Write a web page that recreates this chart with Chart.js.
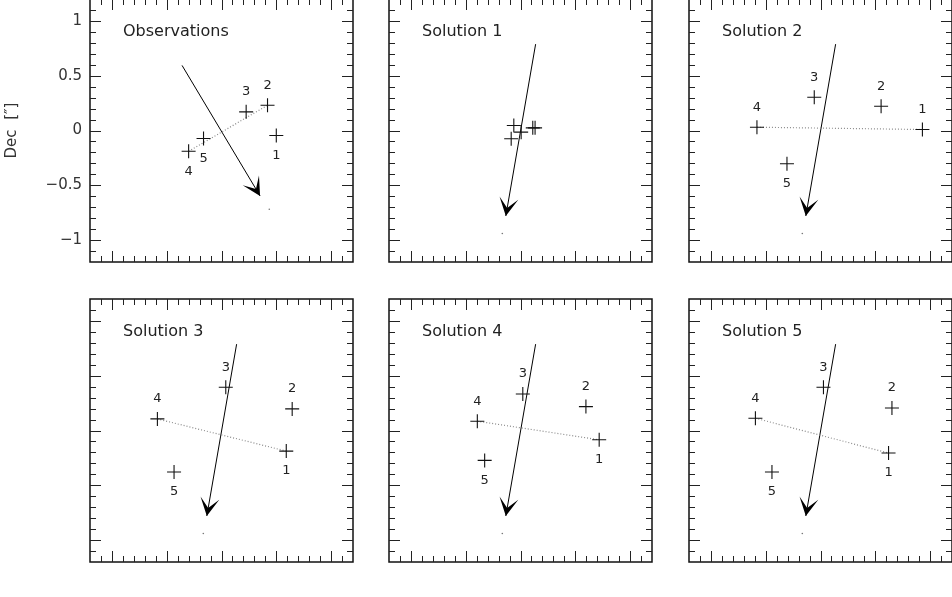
<!DOCTYPE html>
<html><head><meta charset="utf-8">
<script src="https://cdn.jsdelivr.net/npm/chart.js@4.4.1/dist/chart.umd.min.js"></script>
<style>
html,body{margin:0;padding:0;background:#fff;width:952px;height:597px;overflow:hidden;position:relative}
canvas{position:absolute}
</style></head><body>
<script>
// ---------------- DATA ----------------
const panelTitles = ['Observations', 'Solution 1', 'Solution 2', 'Solution 3', 'Solution 4', 'Solution 5'];
const sourceNames = ['1', '2', '3', '4', '5'];

// source positions (arcsec), sources 1..5
const obsX  = [0.50, 0.42, 0.225, -0.30, -0.164];
const obsY  = [-0.045, 0.23, 0.17, -0.19, -0.073];
const sol1X = [0.133, 0.112, -0.061, -0.085, 0.006];
const sol1Y = [0.024, 0.024, 0.045, -0.075, -0.015];
const sol2X = [0.93, 0.553, -0.057, -0.58, -0.306];
const sol2Y = [0.009, 0.221, 0.303, 0.03, -0.303];
const sol3X = [0.591, 0.645, 0.039, -0.585, -0.433];
const sol3Y = [-0.188, 0.197, 0.394, 0.106, -0.379];
const sol4X = [0.718, 0.597, 0.021, -0.394, -0.327];
const sol4Y = [-0.085, 0.218, 0.333, 0.085, -0.273];
const sol5X = [0.621, 0.652, 0.027, -0.594, -0.443];
const sol5Y = [-0.206, 0.206, 0.394, 0.112, -0.379];

// motion arrows [start, end]
const obsArrowX = [-0.36, 0.352];
const obsArrowY = [0.594, -0.597];
const solArrowX = [0.138, -0.134];
const solArrowY = [0.788, -0.780];

// small reference dots
const obsDot = [0.436, -0.718];
const solDot = [-0.166, -0.94];

// dotted connecting lines: pair of source indices (0-based), null = none
const obsLinePair = [3, 1];
const solLinePair = [3, 0];

// axes
const axisMin = -1.2, axisMax = 1.2;
const yTickLabels = [-1, -0.5, 0, 0.5, 1];
const minorTicks = [-1.1, -1.0, -0.9, -0.8, -0.7, -0.6, -0.5, -0.4, -0.3, -0.2, -0.1, 0,
                    0.1, 0.2, 0.3, 0.4, 0.5, 0.6, 0.7, 0.8, 0.9, 1.0, 1.1];
const majorTicks = [-1, -0.5, 0, 0.5, 1];

// ---------------- LAYOUT / STYLE ----------------
const FONT = 'DejaVu Sans';
const SIZE = 263;
const PADL = 90, PAD = 12;
const panelBoxes = [
  {left: 90, top: -1}, {left: 389, top: -1}, {left: 689, top: -1},
  {left: 90, top: 299}, {left: 389, top: 299}, {left: 689, top: 299}
];
// label side per source: true = below
const labelBelowObs = [true, false, false, true, true];
const labelBelowSol2 = [false, false, false, false, true];
const labelBelowSol = [true, false, false, false, true];

const panels = [
  {xs: obsX, ys: obsY, ax: obsArrowX, ay: obsArrowY, dot: obsDot, pair: obsLinePair, below: labelBelowObs, showLabels: true},
  {xs: sol1X, ys: sol1Y, ax: solArrowX, ay: solArrowY, dot: solDot, pair: null, below: null, showLabels: false},
  {xs: sol2X, ys: sol2Y, ax: solArrowX, ay: solArrowY, dot: solDot, pair: solLinePair, below: labelBelowSol2, showLabels: true},
  {xs: sol3X, ys: sol3Y, ax: solArrowX, ay: solArrowY, dot: solDot, pair: solLinePair, below: labelBelowSol, showLabels: true},
  {xs: sol4X, ys: sol4Y, ax: solArrowX, ay: solArrowY, dot: solDot, pair: solLinePair, below: labelBelowSol, showLabels: true},
  {xs: sol5X, ys: sol5Y, ax: solArrowX, ay: solArrowY, dot: solDot, pair: solLinePair, below: labelBelowSol, showLabels: true}
];

function fmt(v) {
  if (v === 0) return '0';
  return String(v).replace('-', '\u2212');
}

const framePlugin = {
  id: 'frame',
  afterDatasetsDraw(chart, args, opts) {
    const ctx = chart.ctx;
    const {left, right, top, bottom} = chart.chartArea;
    const xs = chart.scales.x, ys = chart.scales.y;
    const p = opts.panel, idx = opts.index;
    ctx.save();
    // arrowhead
    const meta = chart.getDatasetMeta(2);
    const p0 = meta.data[0], p1 = meta.data[1];
    const dx = p1.x - p0.x, dy = p1.y - p0.y;
    const len = Math.hypot(dx, dy);
    const ux = dx / len, uy = dy / len;
    const px = -uy, py = ux;
    const L = 18, W = 9.5, N = 8;
    ctx.fillStyle = '#000';
    ctx.beginPath();
    ctx.moveTo(p1.x, p1.y);
    ctx.lineTo(p1.x - L * ux + W * px, p1.y - L * uy + W * py);
    ctx.lineTo(p1.x - N * ux, p1.y - N * uy);
    ctx.lineTo(p1.x - L * ux - W * px, p1.y - L * uy - W * py);
    ctx.closePath();
    ctx.fill();
    // source number labels
    if (p.showLabels) {
      ctx.font = '13px "' + FONT + '"';
      ctx.fillStyle = '#222';
      ctx.textAlign = 'center';
      ctx.textBaseline = 'middle';
      const cm = chart.getDatasetMeta(0);
      sourceNames.forEach((n, k) => {
        const pt = cm.data[k];
        ctx.fillText(n, pt.x, pt.y + (p.below[k] ? 20 : -20));
      });
    }
    // title
    ctx.font = '16px "' + FONT + '"';
    ctx.fillStyle = '#222';
    ctx.textAlign = 'left';
    ctx.textBaseline = 'middle';
    ctx.fillText(panelTitles[idx], left + 33, top + 33);
    // frame
    ctx.strokeStyle = '#111';
    ctx.lineWidth = 1.5;
    ctx.strokeRect(left, top, right - left, bottom - top);
    // ticks (inward, all four sides)
    ctx.lineWidth = 1;
    ctx.strokeStyle = '#222';
    ctx.beginPath();
    minorTicks.forEach(v => {
      const major = majorTicks.includes(v);
      const t = major ? 11 : 6;
      const X = Math.round(xs.getPixelForValue(v)) + 0.5;
      const Y = Math.round(ys.getPixelForValue(v)) + 0.5;
      ctx.moveTo(X, top); ctx.lineTo(X, top + t);
      ctx.moveTo(X, bottom); ctx.lineTo(X, bottom - t);
      ctx.moveTo(left, Y); ctx.lineTo(left + t, Y);
      ctx.moveTo(right, Y); ctx.lineTo(right - t, Y);
    });
    ctx.stroke();
    ctx.restore();
  }
};

panels.forEach((p, i) => {
  const box = panelBoxes[i];
  const c = document.createElement('canvas');
  const w = PADL + SIZE + PAD, h = SIZE + 2 * PAD;
  c.width = w; c.height = h;
  c.style.width = w + 'px'; c.style.height = h + 'px';
  c.style.left = (box.left - PADL) + 'px';
  c.style.top = (box.top - PAD) + 'px';
  document.body.appendChild(c);

  const pts = p.xs.map((x, k) => ({x, y: p.ys[k]}));
  const lineData = p.pair ? [pts[p.pair[0]], pts[p.pair[1]]] : [];
  new Chart(c, {
    type: 'scatter',
    data: {
      datasets: [
        {data: pts, pointStyle: 'cross', pointRadius: 7, borderColor: '#111', borderWidth: 1.1, showLine: false},
        {data: lineData, showLine: true, borderColor: '#8a8a8a', borderWidth: 1.2, borderDash: [1, 2], pointRadius: 0},
        {data: [{x: p.ax[0], y: p.ay[0]}, {x: p.ax[1], y: p.ay[1]}], showLine: true, borderColor: '#000', borderWidth: 1, pointRadius: 0},
        {data: [{x: p.dot[0], y: p.dot[1]}], pointRadius: 0.8, pointStyle: 'circle', backgroundColor: '#777', borderWidth: 0}
      ]
    },
    options: {
      responsive: false,
      animation: false,
      devicePixelRatio: 1,
      events: [],
      layout: {padding: {left: 0, top: PAD, right: PAD, bottom: PAD}},
      plugins: {legend: {display: false}, tooltip: {enabled: false}, frame: {panel: p, index: i}},
      scales: {
        x: {type: 'linear', min: axisMin, max: axisMax, display: false},
        y: {
          type: 'linear', min: axisMin, max: axisMax, position: 'left',
          afterFit: s => { s.width = PADL; s.paddingTop = 0; s.paddingBottom = 0; },
          afterBuildTicks: s => { s.ticks = yTickLabels.map(v => ({value: v})); },
          grid: {display: false, drawTicks: false},
          border: {display: false},
          ticks: {display: i === 0, font: {size: 15, family: FONT}, color: '#333', padding: 8, callback: v => fmt(v)},
          title: {display: i === 0, text: 'Dec  [\u2033]', font: {size: 15, family: FONT}, color: '#333', padding: {top: 3, bottom: 0}}
        }
      }
    },
    plugins: [framePlugin]
  });
});
</script>
</body></html>
